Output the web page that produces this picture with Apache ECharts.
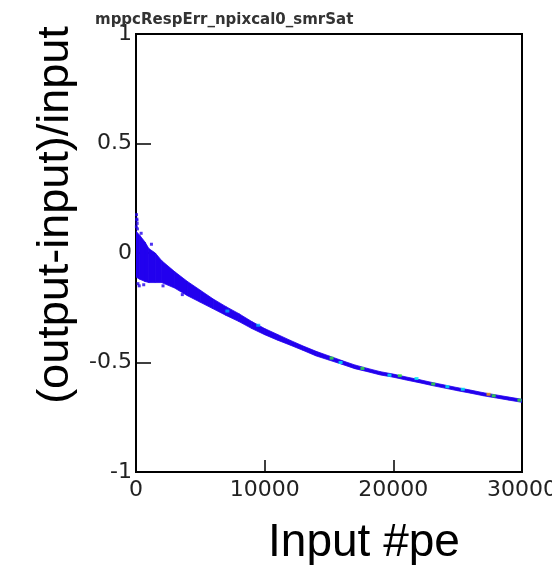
<!DOCTYPE html>
<html>
<head>
<meta charset="utf-8">
<script src="https://cdn.jsdelivr.net/npm/echarts@6/dist/echarts.min.js"></script>
<style>
html,body{margin:0;padding:0;background:#fff;}
#chart{width:552px;height:565px;}
</style>
</head>
<body>
<div id="chart"></div>
<script>
// ---- data ----
const chartTitle = 'mppcRespErr_npixcal0_smrSat';
const xTitle = 'Input #pe';
const yTitle = '(output-input)/input';

// band of the 2D histogram: input (pe) vs upper / lower edge of (output-input)/input
const peValues   = [0, 300, 700, 1000, 1500, 2000, 3000, 4000, 5000, 6000, 7000, 8000, 9000, 10000,
                    11000, 12000, 13000, 14000, 15000, 16000, 17000, 18000, 19000, 20000,
                    21000, 22000, 23000, 24000, 25000, 26000, 27000, 28000, 29000, 30000];
const upperRatio = [0.10, 0.08, 0.05, 0.02, 0.00, -0.035, -0.085, -0.13, -0.17, -0.21, -0.245, -0.277, -0.313, -0.345,
                    -0.372, -0.399, -0.425, -0.449, -0.47, -0.491, -0.511, -0.527, -0.542, -0.553,
                    -0.566, -0.578, -0.591, -0.603, -0.615, -0.626, -0.638, -0.648, -0.658, -0.668];
const lowerRatio = [-0.11, -0.12, -0.13, -0.135, -0.135, -0.135, -0.16, -0.195, -0.225, -0.255, -0.285, -0.313, -0.345, -0.373,
                    -0.398, -0.421, -0.445, -0.47, -0.489, -0.508, -0.528, -0.542, -0.557, -0.567,
                    -0.58, -0.592, -0.605, -0.617, -0.629, -0.64, -0.652, -0.662, -0.672, -0.682];

// sparse single cells around the band
const outlierPe    = [40, 60, 90, 30, 110, 70, 150, 250, 600, 2100, 3600, 1200, 400];
const outlierRatio = [0.175, 0.155, 0.135, 0.12, 0.11, 0.15, -0.14, -0.15, -0.145, -0.15, -0.19, 0.04, 0.09];

// higher-count cells (colour level 1..4) along the curve
const hotPe    = [7100, 9500, 15200, 15900, 17600, 19700, 20500, 21800, 23100, 24200, 25400, 27400, 27800, 29800];
const hotRatio = [-0.265, -0.33, -0.48, -0.5, -0.527, -0.558, -0.56, -0.573, -0.598, -0.61, -0.622, -0.645, -0.652, -0.672];
const hotLevel = [1, 1, 3, 2, 3, 2, 3, 2, 3, 2, 2, 4, 3, 3];

const xTicks = [0, 10000, 20000, 30000];
const yTicks = [-1, -0.5, 0, 0.5, 1];

const bandColor = '#2200ee';
const levelColors = ['#2200ee', '#00aaff', '#00f0f0', '#33ee33', '#ffaa00'];

const chart = echarts.init(document.getElementById('chart'), null, {renderer: 'canvas'});

const option = {
  backgroundColor: '#ffffff',
  animation: false,
  title: {
    text: chartTitle,
    left: 90, top: 8,
    textStyle: {fontFamily: 'DejaVu Sans', fontWeight: 'bold', fontSize: 15, color: '#333'}
  },
  grid: {
    left: 136, top: 34, width: 386, height: 438,
    outerBoundsMode: 'none', containLabel: false,
    show: true, borderColor: '#000', borderWidth: 2, backgroundColor: '#fff'
  },
  xAxis: {
    type: 'value', min: xTicks[0], max: xTicks[xTicks.length - 1], interval: 10000,
    name: xTitle, nameLocation: 'middle', nameGap: 48,
    nameTextStyle: {fontFamily: 'Liberation Sans', fontSize: 46, color: '#000', padding: [0, 0, 0, 70]},
    axisLine: {show: true, onZero: false, lineStyle: {color: '#000', width: 2}},
    axisTick: {show: true, inside: true, length: 12, lineStyle: {color: '#000', width: 1.5}},
    axisLabel: {fontFamily: 'DejaVu Sans', fontSize: 22, color: '#222', margin: 7,
                formatter: v => String(v)},
    splitLine: {show: false}
  },
  yAxis: {
    type: 'value', min: yTicks[0], max: yTicks[yTicks.length - 1], interval: 0.5,
    name: yTitle, nameLocation: 'middle', nameGap: 57,
    nameTextStyle: {fontFamily: 'Liberation Sans', fontSize: 45, color: '#000', padding: [0, 0, 0, 76]},
    axisLine: {show: true, onZero: false, lineStyle: {color: '#000', width: 2}},
    axisTick: {show: true, inside: true, length: 15, lineStyle: {color: '#000', width: 1.5}},
    axisLabel: {fontFamily: 'DejaVu Sans', fontSize: 22, color: '#222', margin: 4,
                formatter: v => String(v)},
    splitLine: {show: false}
  },
  series: [
    {
      type: 'custom',
      clip: true,
      data: peValues.map((x, i) => [x, upperRatio[i], lowerRatio[i]]),
      encode: {x: 0, y: [1, 2]},
      renderItem: function (params, api) {
        const i = params.dataIndex;
        if (i >= peValues.length - 1) return null;
        const pts = [
          api.coord([peValues[i], upperRatio[i]]),
          api.coord([peValues[i + 1], upperRatio[i + 1]]),
          api.coord([peValues[i + 1], lowerRatio[i + 1]]),
          api.coord([peValues[i], lowerRatio[i]])
        ];
        return {
          type: 'polygon',
          shape: {points: pts},
          style: {fill: bandColor, stroke: bandColor, lineWidth: 0.8}
        };
      },
      z: 2
    },
    {
      type: 'scatter',
      symbol: 'rect', symbolSize: 3,
      data: outlierPe.map((x, i) => [x, outlierRatio[i]]),
      itemStyle: {color: bandColor},
      z: 3
    },
    {
      type: 'scatter',
      symbol: 'rect', symbolSize: [4, 3],
      data: hotPe.map((x, i) => ({value: [x, hotRatio[i]], itemStyle: {color: levelColors[hotLevel[i]]}})),
      z: 4
    }
  ]
};
chart.setOption(option);
</script>
</body>
</html>
